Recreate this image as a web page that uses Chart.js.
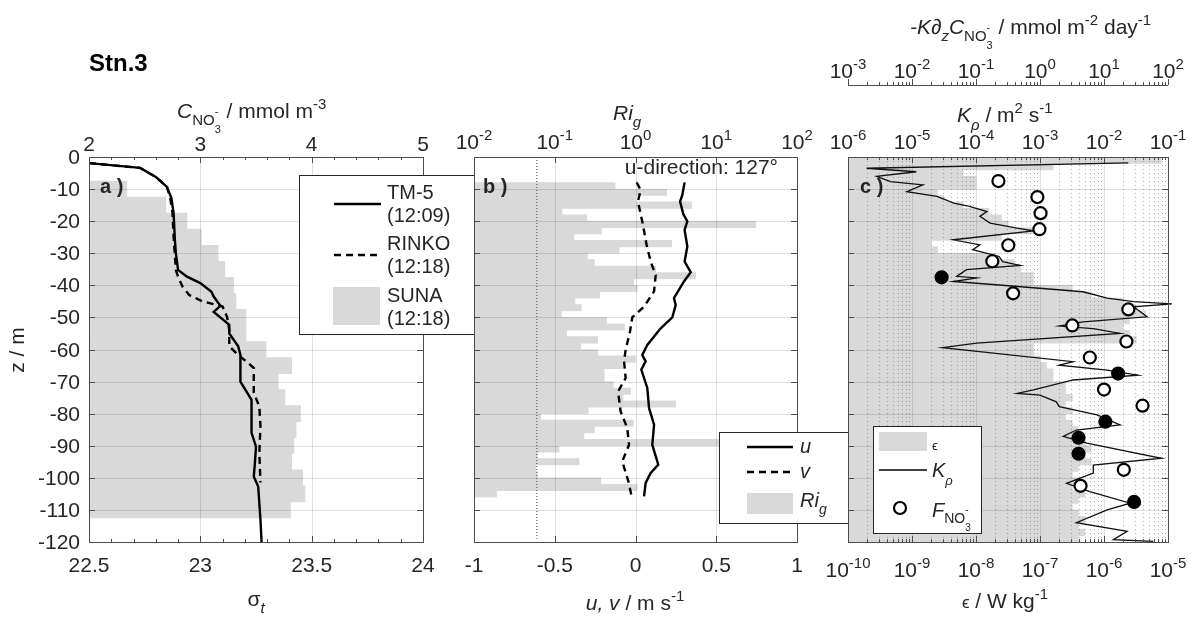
<!DOCTYPE html>
<html><head><meta charset="utf-8">
<script src="https://cdn.jsdelivr.net/npm/chart.js@4.4.0/dist/chart.umd.min.js"></script>
<style>
body{margin:0;background:#fff;}
#wrap{position:relative;width:1196px;height:622px;background:#fff;}
canvas{position:absolute;left:0;top:0;}
</style></head>
<body><div id="wrap">
<canvas id="ca" width="1196" height="622"></canvas>
<canvas id="cb" width="1196" height="622"></canvas>
<canvas id="cc" width="1196" height="622"></canvas>
</div>
<script>
// ---------------- data ----------------
const depthTicks = [0,-10,-20,-30,-40,-50,-60,-70,-80,-90,-100,-110,-120];
const sigmaTicks = [22.5,23,23.5,24];
const no3Ticks = [2,3,4,5];
const uvTicks = [-1,-0.5,0,0.5,1];
const riTicksExp = [-2,-1,0,1,2];
const kTicksExp = [-6,-5,-4,-3,-2,-1];
const epsTicksExp = [-10,-9,-8,-7,-6,-5];
const fluxTicksExp = [-3,-2,-1,0,1,2];

const sunaDepth = [-10,-15,-20,-25,-30,-35,-40,-45,-50,-55,-60,-65,-70,-75,-80,-85,-90,-95,-100,-105,-110];
const sunaNO3   = [2.34,2.69,2.88,3.01,3.16,3.22,3.30,3.32,3.41,3.41,3.59,3.82,3.70,3.76,3.90,3.86,3.84,3.82,3.92,3.94,3.81];

const tm5Depth = [-1.9,-3.4,-6.2,-9.3,-12.8,-17.5,-25,-30,-35.2,-37.3,-39.3,-42,-43.5,-46.4,-48.3,-52.3,-55,-59,-61.7,-70,-75.7,-79.8,-86,-90.3,-95.4,-99.6,-102.7,-108,-113,-120];
const tm5Sigma = [22.50,22.73,22.80,22.85,22.87,22.88,22.885,22.89,22.90,22.94,23.00,23.05,23.06,23.09,23.06,23.13,23.13,23.17,23.18,23.18,23.23,23.23,23.23,23.25,23.245,23.24,23.26,23.265,23.27,23.275];

const rinkoDepth = [-1.9,-3.4,-6.2,-9.3,-12.8,-17.5,-25,-30,-35.2,-37.3,-40.4,-43,-45,-46.6,-49.8,-53.9,-59,-61.7,-63.9,-65.8,-73.5,-77.8,-84,-92.3,-101.5];
const rinkoSigma = [22.50,22.73,22.80,22.85,22.865,22.875,22.88,22.885,22.89,22.90,22.92,22.95,23.01,23.10,23.12,23.13,23.13,23.17,23.21,23.24,23.24,23.265,23.27,23.265,23.27];

const riDepth = [-9,-11,-13,-15,-17,-19,-21,-23,-25,-27,-29,-31,-33,-35,-37,-39,-41,-43,-45,-47,-49,-51,-53,-55,-57,-59,-61,-63,-65,-67,-69,-71,-73,-75,-77,-79,-81,-83,-85,-87,-89,-91,-93,-95,-97,-99,-101,-103,-105];
const riValue = [0.56,2.43,1.0,4.97,0.123,0.249,30.8,0.38,0.173,2.8,0.625,0.254,0.31,1.78,5.56,0.95,1.05,0.36,0.178,0.213,0.121,0.44,0.73,0.14,0.34,0.21,0.34,1.0,0.69,0.41,0.41,0.53,0.87,0.7,3.14,0.26,0.067,0.94,0.31,0.23,15,0.113,0.061,0.2,0.058,0.061,0.37,1.05,0.019];
const riCritical = 0.06;

const uDepth = [-7.9,-11.8,-13.9,-17.8,-20.1,-22.7,-27.9,-32.6,-35.9,-38.8,-44,-46.1,-50,-53.4,-58.6,-61.7,-63.7,-66.3,-72,-78.3,-83.4,-89.7,-95.9,-98.5,-101.6,-105.8];
const uValue = [0.304,0.29,0.276,0.296,0.321,0.304,0.321,0.304,0.342,0.30,0.238,0.249,0.228,0.156,0.073,0.042,0.063,0.036,0.073,0.084,0.115,0.104,0.141,0.094,0.063,0.053];
const vDepth = [-7.9,-10.3,-13.9,-20.1,-27.4,-32.6,-36.8,-41.9,-46.6,-50,-54.4,-60.1,-63.7,-68.9,-73.1,-79.3,-84.5,-89.7,-94.9,-101.1,-105.3];
const vValue = [0.007,0.032,0.015,0.042,0.069,0.094,0.125,0.115,0.053,-0.020,-0.034,-0.061,-0.071,-0.061,-0.108,-0.092,-0.051,-0.040,-0.082,-0.044,-0.026];

const epsDepth = [-1,-3,-5,-7,-9,-11,-13,-15,-17,-19,-21,-23,-25,-27,-29,-31,-33,-35,-37,-39,-41,-43,-45,-47,-49,-51,-53,-55,-57,-59,-61,-63,-65,-67,-69,-71,-73,-75,-77,-79,-81,-83,-85,-87,-89,-91,-93,-95,-97,-99,-101,-103,-105,-107,-109,-111,-113,-115,-117,-119];
const epsValue = [7.9e-6,1.6e-7,6.3e-9,1.0e-8,1.0e-8,2.5e-9,3.2e-9,6.3e-9,1.6e-8,2.5e-8,3.2e-8,7.9e-8,2.5e-8,2.0e-9,2.5e-9,2.0e-8,4.0e-8,5.0e-8,7.9e-8,7.9e-8,3.2e-7,6.3e-7,2.0e-6,3.2e-6,4.5e-6,2.5e-6,2.0e-6,2.5e-6,3.2e-6,7.9e-8,7.9e-8,1.0e-7,1.26e-7,1.6e-7,1.6e-7,2.5e-7,2.5e-7,3.2e-7,2.5e-7,3.2e-7,2.5e-7,3.2e-7,4.0e-7,4.0e-7,5.0e-7,6.3e-7,5.0e-7,6.3e-7,4.0e-7,3.2e-7,4.0e-7,3.2e-7,5.0e-7,4.0e-7,3.2e-7,4.0e-7,5.0e-7,4.0e-7,5.0e-7,4.0e-7];

const kDepth = [-1.8,-3.5,-4.6,-6.0,-7.7,-8.7,-10.8,-12.3,-14.4,-15.4,-17.0,-18.5,-20.6,-22.2,-23.0,-25.8,-27.4,-28.9,-31.0,-32.6,-33.8,-35.1,-37.2,-37.7,-38.8,-39.9,-42.0,-44.0,-45.1,-45.8,-46.7,-49.8,-51.4,-52.7,-53.5,-55.0,-58.0,-59.4,-63.8,-64.9,-66.4,-68.0,-69.5,-72.6,-73.7,-74.2,-76.3,-77.8,-80.4,-83.5,-85.1,-87.1,-89.2,-93.9,-96.0,-98.5,-101.7,-104.3,-107.9,-110.0,-114.0,-116.7,-119.3,-119.8];
const kValue = [0.024,1.95e-6,1.17e-5,2.8e-6,4.6e-6,1.48e-5,8.3e-6,2.45e-5,4.5e-5,7.9e-5,1.48e-4,1.15e-4,1.66e-4,4.4e-4,7.9e-4,4.4e-5,1.15e-4,8.9e-5,2.3e-4,2.6e-4,4.9e-4,7.1e-5,5e-5,1.02e-4,4.4e-5,2.3e-4,4.7e-3,0.0112,0.029,0.115,0.029,0.047,4.7e-3,2.0e-3,6.8e-3,0.0178,1.02e-4,3.0e-5,3.3e-3,2.0e-3,0.0112,0.034,3.3e-3,7.9e-4,4.4e-4,1e-3,1.8e-3,2.0e-3,7.8e-3,0.0178,3.7e-3,2.3e-3,5.4e-3,0.079,6.8e-3,6.8e-3,2.6e-3,6.0e-3,0.0257,0.0112,3.7e-3,0.023,0.014,0.059];

const fluxDepth = [-7.5,-12.5,-17.5,-22.5,-27.5,-32.5,-37.5,-42.5,-47.5,-52.5,-57.5,-62.5,-67.5,-72.5,-77.5,-82.5,-87.5,-92.5,-97.5,-102.5,-107.5];
const fluxValue = [0.224,0.91,1.02,0.98,0.32,0.18,0.029,0.38,24,3.2,22.4,6.0,16.6,10,40,10.5,4.0,4.0,20.4,4.3,29.5];
const fluxUpward = [false,false,false,false,false,false,true,false,false,false,false,false,true,false,false,true,true,true,false,false,true];

// ---------------- styling helpers ----------------
const W = 1196, H = 622;
const FONT = '"Liberation Sans", Arial, Helvetica, sans-serif';
const TXT = '#262626';
const AX = '#4d4d4d';
const GRID = 'rgba(38,38,38,0.15)';
const MINOR = 'rgba(38,38,38,0.35)';
const BARC = '#d9d9d9';
const FS = 21, FE = 15;

function fnt(p){return (p.i?'italic ':'')+(p.b?'bold ':'')+(p.s||FS)+'px '+FONT;}
function rich(ctx, parts, x, y, align){
  let w=0;
  for(const p of parts){ctx.font=fnt(p);p._w=ctx.measureText(p.t).width;if(!p.na)w+=p._w;}
  let cx = align==='center'? x-w/2 : align==='right'? x-w : x;
  ctx.textAlign='left';ctx.textBaseline='alphabetic';
  for(const p of parts){ctx.font=fnt(p);ctx.fillStyle=p.c||TXT;ctx.fillText(p.t,cx,y+(p.dy||0));if(!p.na)cx+=p._w;}
  return w;
}
function expParts(n){return [{t:'10'},{t:String(n),s:FE,dy:-9}];}
function ln(ctx,x1,y1,x2,y2){ctx.beginPath();ctx.moveTo(x1,y1);ctx.lineTo(x2,y2);ctx.stroke();}
function snap(v){return Math.round(v)+0.5;}
function box(ctx,a){ctx.save();ctx.strokeStyle=AX;ctx.lineWidth=1;ctx.strokeRect(snap(a.left),snap(a.top),Math.round(a.right-a.left),Math.round(a.bottom-a.top));ctx.restore();}
function yTicks(ctx,a,ys){ctx.save();ctx.strokeStyle=AX;ctx.lineWidth=1;for(const v of depthTicks){const p=snap(ys.getPixelForValue(v));ln(ctx,a.left,p,a.left+6,p);ln(ctx,a.right,p,a.right-6,p);}ctx.restore();}
function xTicksAt(ctx,scale,vals,y,dir,len){ctx.save();ctx.strokeStyle=AX;ctx.lineWidth=1;for(const v of vals){const p=snap(scale.getPixelForValue(v));ln(ctx,p,y,p,y+dir*len);}ctx.restore();}
function logMinor(lo,hi){const r=[];for(let e=lo;e<hi;e++)for(let m=2;m<=9;m++)r.push(m*Math.pow(10,e));return r;}
function hGrid(ctx,a,ys){ctx.save();ctx.strokeStyle=GRID;ctx.lineWidth=1;for(const v of depthTicks){if(v===0||v===-120)continue;const p=snap(ys.getPixelForValue(v));ln(ctx,a.left,p,a.right,p);}ctx.restore();}
function vGrid(ctx,a,scale,vals){ctx.save();ctx.strokeStyle=GRID;ctx.lineWidth=1;for(const v of vals){const p=snap(scale.getPixelForValue(v));if(p<=a.left+1||p>=a.right-1)continue;ln(ctx,p,a.top,p,a.bottom);}ctx.restore();}
function legendBox(ctx,x,y,w,h){ctx.save();ctx.fillStyle='#fff';ctx.fillRect(x,y,w,h);ctx.strokeStyle=TXT;ctx.lineWidth=1;ctx.strokeRect(x+0.5,y+0.5,w-1,h-1);ctx.restore();}
function sample(ctx,x1,x2,y,lw,dash){ctx.save();ctx.strokeStyle='#000';ctx.lineWidth=lw;ctx.setLineDash(dash||[]);ln(ctx,x1,y,x2,y);ctx.restore();}

function baseOptions(left,right,scales){
  return {indexAxis:'y',responsive:false,animation:false,devicePixelRatio:1,
    layout:{padding:{left:left,right:W-right,top:157,bottom:H-542}},
    plugins:{legend:{display:false},tooltip:{enabled:false}},
    scales:scales};
}
function depthScale(){return {type:'linear',min:-120,max:0,display:false,offset:false};}

// ---------------- panel a ----------------
new Chart(document.getElementById('ca'),{
  type:'bar',
  data:{datasets:[
    {type:'bar',data:sunaDepth.map((z,i)=>({x:sunaNO3[i],y:z})),xAxisID:'xn',yAxisID:'y',base:2,backgroundColor:BARC,borderWidth:0,barPercentage:1,categoryPercentage:1,order:3},
    {type:'line',data:rinkoDepth.map((z,i)=>({x:rinkoSigma[i],y:z})),xAxisID:'xs',yAxisID:'y',borderColor:'#000',borderWidth:2.4,borderDash:[7,5],pointRadius:0,tension:0,fill:false,order:2},
    {type:'line',data:tm5Depth.map((z,i)=>({x:tm5Sigma[i],y:z})),xAxisID:'xs',yAxisID:'y',borderColor:'#000',borderWidth:2.4,pointRadius:0,tension:0,fill:false,order:1}
  ]},
  options:baseOptions(89,423,{
    xn:{type:'linear',position:'top',min:2,max:5,display:false,offset:false},
    xs:{type:'linear',position:'bottom',min:22.5,max:24,display:false,offset:false},
    y:depthScale()}),
  plugins:[{id:'decoA',
    afterDatasetDraw(chart,args){if(args.index!==0)return;const c=chart.ctx,a=chart.chartArea,s=chart.scales;hGrid(c,a,s.y);vGrid(c,a,s.xs,sigmaTicks);},
    afterDraw(chart){
      const c=chart.ctx,a=chart.chartArea,s=chart.scales;
      box(c,a);yTicks(c,a,s.y);
      const sMinor=[];for(let v=22.6;v<24;v+=0.1)sMinor.push(+v.toFixed(1));
      xTicksAt(c,s.xs,sigmaTicks,a.bottom,-1,6);xTicksAt(c,s.xs,sMinor,a.bottom,-1,3);
      const nMinor=[];for(let v=2.2;v<5;v+=0.2)nMinor.push(+v.toFixed(1));
      xTicksAt(c,s.xn,no3Ticks,a.top,1,6);xTicksAt(c,s.xn,nMinor,a.top,1,3);
      // tick labels
      for(const v of depthTicks)rich(c,[{t:String(v)}],80,s.y.getPixelForValue(v)+7,'right');
      for(const v of sigmaTicks)rich(c,[{t:String(v)}],s.xs.getPixelForValue(v),572,'center');
      for(const v of no3Ticks)rich(c,[{t:String(v)}],s.xn.getPixelForValue(v),151,'center');
      // titles
      rich(c,[{t:'Stn.3',b:true,s:24,c:'#000'}],89,71,'left');
      rich(c,[{t:'C',i:true},{t:'NO',s:15,dy:7},{t:'-',s:11,dy:-3,na:true},{t:'3',s:11,dy:15},{t:' / mmol m'},{t:'-3',s:FE,dy:-9}],177,118,'left');
      rich(c,[{t:'σ'},{t:'t',i:true,s:FE,dy:7}],256,606,'center');
      c.save();c.translate(24,350);c.rotate(-Math.PI/2);rich(c,[{t:'z / m'}],0,0,'center');c.restore();
      rich(c,[{t:'a )',b:true,s:20}],100,193,'left');
      // legend
      legendBox(c,299,175,176,160);
      sample(c,334,381,204,2.4);
      rich(c,[{t:'TM-5',s:20}],387,199,'left');rich(c,[{t:'(12:09)',s:20}],387,222,'left');
      sample(c,334,381,255,2.4,[7,5]);
      rich(c,[{t:'RINKO',s:20}],387,250,'left');rich(c,[{t:'(12:18)',s:20}],387,273,'left');
      c.save();c.fillStyle=BARC;c.fillRect(333,287,47,38);c.restore();
      rich(c,[{t:'SUNA',s:20}],387,302,'left');rich(c,[{t:'(12:18)',s:20}],387,325,'left');
    }}]
});

// ---------------- panel b ----------------
new Chart(document.getElementById('cb'),{
  type:'bar',
  data:{datasets:[
    {type:'bar',data:riDepth.map((z,i)=>({x:riValue[i],y:z})),xAxisID:'xr',yAxisID:'y',base:0.01,backgroundColor:BARC,borderWidth:0,barPercentage:1,categoryPercentage:1,order:4},
    {type:'line',data:[{x:riCritical,y:0},{x:riCritical,y:-119}],xAxisID:'xr',yAxisID:'y',borderColor:'#444',borderWidth:1,borderDash:[1,2],pointRadius:0,order:3},
    {type:'line',data:vDepth.map((z,i)=>({x:vValue[i],y:z})),xAxisID:'xu',yAxisID:'y',borderColor:'#000',borderWidth:2.4,borderDash:[7,5],pointRadius:0,tension:0,fill:false,order:2},
    {type:'line',data:uDepth.map((z,i)=>({x:uValue[i],y:z})),xAxisID:'xu',yAxisID:'y',borderColor:'#000',borderWidth:2.4,pointRadius:0,tension:0,fill:false,order:1}
  ]},
  options:baseOptions(474,797,{
    xr:{type:'logarithmic',position:'top',min:0.01,max:100,display:false,offset:false},
    xu:{type:'linear',position:'bottom',min:-1,max:1,display:false,offset:false},
    y:depthScale()}),
  plugins:[{id:'decoB',
    afterDatasetDraw(chart,args){if(args.index!==0)return;const c=chart.ctx,a=chart.chartArea,s=chart.scales;hGrid(c,a,s.y);vGrid(c,a,s.xu,uvTicks);},
    afterDraw(chart){
      const c=chart.ctx,a=chart.chartArea,s=chart.scales;
      box(c,a);yTicks(c,a,s.y);
      xTicksAt(c,s.xu,uvTicks,a.bottom,-1,6);
      xTicksAt(c,s.xr,riTicksExp.map(e=>Math.pow(10,e)),a.top,1,6);
      for(const v of uvTicks)rich(c,[{t:String(v)}],s.xu.getPixelForValue(v),572,'center');
      for(const e of riTicksExp)rich(c,expParts(e),s.xr.getPixelForValue(Math.pow(10,e)),149,'center');
      rich(c,[{t:'Ri',i:true},{t:'g',i:true,s:FE,dy:7}],613,120,'left');
      rich(c,[{t:'u, v',i:true},{t:' / m s'},{t:'-1',s:FE,dy:-9}],635,610,'center');
      rich(c,[{t:'u-direction: 127°'}],778,174,'right');
      rich(c,[{t:'b )',b:true,s:20}],483,193,'left');
      legendBox(c,719,432,130,92);
      sample(c,747,793,447,2.4);
      rich(c,[{t:'u',i:true,s:20}],800,453,'left');
      sample(c,747,793,472,2.4,[7,5]);
      rich(c,[{t:'v',i:true,s:20}],800,478,'left');
      c.save();c.fillStyle=BARC;c.fillRect(747,493,46,21);c.restore();
      rich(c,[{t:'Ri',i:true,s:20},{t:'g',i:true,s:14,dy:7}],800,507,'left');
    }}]
});

// ---------------- panel c ----------------
new Chart(document.getElementById('cc'),{
  type:'bar',
  data:{datasets:[
    {type:'bar',data:epsDepth.map((z,i)=>({x:epsValue[i],y:z})),xAxisID:'xe',yAxisID:'y',base:1e-10,backgroundColor:BARC,borderWidth:0,barPercentage:1,categoryPercentage:1,order:3},
    {type:'line',data:kDepth.map((z,i)=>({x:kValue[i],y:z})),xAxisID:'xk',yAxisID:'y',borderColor:'#111',borderWidth:1.3,pointRadius:0,tension:0,fill:false,clip:false,order:2},
    {type:'line',data:fluxDepth.map((z,i)=>({x:fluxValue[i],y:z})),xAxisID:'xf',yAxisID:'y',showLine:false,pointRadius:6,pointBorderWidth:2.2,pointBorderColor:'#000',pointBackgroundColor:fluxUpward.map(f=>f?'#000':'#fff'),order:1}
  ]},
  options:baseOptions(848,1168,{
    xe:{type:'logarithmic',position:'bottom',min:1e-10,max:1e-5,display:false,offset:false},
    xk:{type:'logarithmic',position:'top',min:1e-6,max:1e-1,display:false,offset:false},
    xf:{type:'logarithmic',position:'top',min:1e-3,max:1e2,display:false,offset:false},
    y:depthScale()}),
  plugins:[{id:'decoC',
    afterDatasetDraw(chart,args){if(args.index!==0)return;const c=chart.ctx,a=chart.chartArea,s=chart.scales;
      c.save();c.strokeStyle=MINOR;c.lineWidth=1;c.setLineDash([1,3]);
      for(const v of logMinor(-10,-5)){const p=snap(s.xe.getPixelForValue(v));ln(c,p,a.top,p,a.bottom);}
      c.restore();
      hGrid(c,a,s.y);vGrid(c,a,s.xe,epsTicksExp.map(e=>Math.pow(10,e)));},
    afterDraw(chart){
      const c=chart.ctx,a=chart.chartArea,s=chart.scales;
      box(c,a);yTicks(c,a,s.y);
      xTicksAt(c,s.xe,epsTicksExp.map(e=>Math.pow(10,e)),a.bottom,-1,6);
      xTicksAt(c,s.xe,logMinor(-10,-5),a.bottom,-1,3);
      xTicksAt(c,s.xk,kTicksExp.map(e=>Math.pow(10,e)),a.top,1,6);
      xTicksAt(c,s.xk,logMinor(-6,-1),a.top,1,3);
      for(const e of epsTicksExp)rich(c,expParts(e),s.xe.getPixelForValue(Math.pow(10,e)),577,'center');
      for(const e of kTicksExp)rich(c,expParts(e),s.xk.getPixelForValue(Math.pow(10,e)),149,'center');
      // flux axis
      const fy=85;
      c.save();c.strokeStyle=AX;c.lineWidth=1;ln(c,a.left,fy+0.5,a.right,fy+0.5);c.restore();
      xTicksAt(c,s.xf,fluxTicksExp.map(e=>Math.pow(10,e)),fy,-1,6);
      xTicksAt(c,s.xf,logMinor(-3,2),fy,-1,3);
      for(const e of fluxTicksExp)rich(c,expParts(e),s.xf.getPixelForValue(Math.pow(10,e)),78,'center');
      rich(c,[{t:'-K∂',i:true},{t:'z',i:true,s:FE,dy:7},{t:'C',i:true},{t:'NO',s:15,dy:7},{t:'-',s:11,dy:-3,na:true},{t:'3',s:11,dy:15},{t:' / mmol m'},{t:'-2',s:FE,dy:-9},{t:' day'},{t:'-1',s:FE,dy:-9}],910,34,'left');
      rich(c,[{t:'K',i:true},{t:'ρ',i:true,s:FE,dy:8},{t:' / m'},{t:'2',s:FE,dy:-9},{t:' s'},{t:'-1',s:FE,dy:-9}],957,122,'left');
      rich(c,[{t:'ϵ',s:17},{t:' / W kg'},{t:'-1',s:FE,dy:-9}],1005,608,'center');
      rich(c,[{t:'c )',b:true,s:20}],860,193,'left');
      // legend
      legendBox(c,873,426,109,108);
      c.save();c.fillStyle=BARC;c.fillRect(879,432,48,19);c.restore();
      rich(c,[{t:'ϵ',s:13}],932,450,'left');
      sample(c,879,927,470,1.3);
      rich(c,[{t:'K',i:true,s:20},{t:'ρ',i:true,s:13,dy:8}],932,477,'left');
      c.save();c.beginPath();c.arc(900,508,6,0,Math.PI*2);c.fillStyle='#fff';c.fill();c.lineWidth=2.2;c.strokeStyle='#000';c.stroke();c.restore();
      rich(c,[{t:'F',i:true,s:20},{t:'NO',s:14,dy:6},{t:'-',s:10,dy:-4,na:true},{t:'3',s:10,dy:14}],932,517,'left');
    }}]
});
</script>
</body></html>
